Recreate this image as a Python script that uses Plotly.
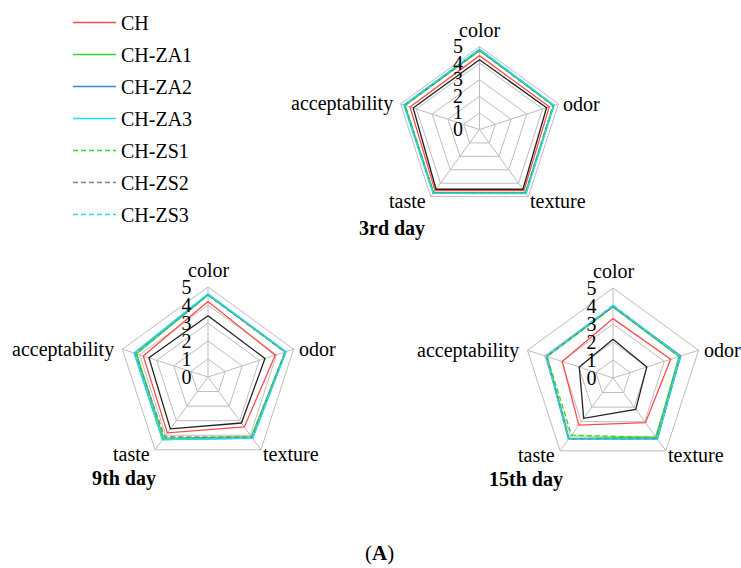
import math
import plotly.graph_objects as go

attributes = ["color", "odor", "texture", "taste", "acceptability"]
radial_ticks = [0, 1, 2, 3, 4, 5]
days = ["3rd day", "9th day", "15th day"]

# Sensory scores per sample: [3rd day, 9th day, 15th day], attributes in the order above
control = [
    [4.20, 4.25, 4.45, 4.45, 4.20],
    [3.40, 3.33, 3.16, 3.56, 3.45],
    [2.15, 1.97, 2.15, 2.77, 1.97],
]
ch = [
    [4.45, 4.42, 4.55, 4.55, 4.40],
    [4.20, 3.93, 3.43, 3.84, 3.78],
    [3.30, 3.37, 3.07, 3.23, 2.96],
]
ch_za1 = [
    [4.75, 4.68, 4.70, 4.70, 4.72],
    [4.55, 4.50, 4.10, 4.20, 4.17],
    [3.95, 3.85, 4.07, 4.15, 3.85],
]
ch_za2 = [
    [4.80, 4.70, 4.75, 4.72, 4.75],
    [4.60, 4.55, 4.20, 4.30, 4.30],
    [3.98, 3.95, 4.20, 4.20, 3.90],
]
ch_za3 = [
    [4.85, 4.72, 4.78, 4.75, 4.80],
    [4.62, 4.55, 4.22, 4.30, 4.32],
    [4.00, 3.92, 4.18, 4.21, 3.88],
]
ch_zs1 = [
    [4.75, 4.65, 4.70, 4.70, 4.70],
    [4.55, 4.50, 4.12, 4.22, 4.20],
    [3.95, 3.88, 4.10, 3.92, 3.85],
]
ch_zs2 = [
    [4.78, 4.70, 4.72, 4.72, 4.75],
    [4.55, 4.50, 4.15, 4.10, 4.25],
    [3.97, 3.90, 4.15, 4.18, 3.87],
]
ch_zs3 = [
    [4.82, 4.72, 4.75, 4.75, 4.78],
    [4.60, 4.55, 4.20, 4.30, 4.30],
    [4.05, 3.92, 4.20, 4.20, 3.90],
]

DASH = "5px,3px"
series = [
    ("CH", ch, "#ff4a4a", "solid", True),
    ("CH-ZA1", ch_za1, "#2fd82f", "solid", True),
    ("CH-ZA2", ch_za2, "#3a86d8", "solid", True),
    ("CH-ZA3", ch_za3, "#22dcf0", "solid", True),
    ("CH-ZS1", ch_zs1, "#2fd82f", DASH, True),
    ("CH-ZS2", ch_zs2, "#7f8190", DASH, True),
    ("CH-ZS3", ch_zs3, "#22dcf0", DASH, True),
    ("Control", control, "#222222", "solid", False),
]

SERIF = "Liberation Serif, Times New Roman, serif"
FS = 20
W, H = 741, 568

# Pixel geometry of each radar: centre x, centre y (from top), radius
geom = [(479.5, 129.5, 83), (208, 377, 90), (613, 378, 90)]
polar_names = ["polar", "polar2", "polar3"]

fig = go.Figure()
for d, pname in enumerate(polar_names):
    for name, vals, color, dash, in_legend in series:
        r = vals[d] + vals[d][:1]
        theta = attributes + attributes[:1]
        fig.add_trace(go.Scatterpolar(
            r=r, theta=theta, mode="lines", name=name,
            subplot=pname,
            line=dict(color=color, width=1.3, dash=dash),
            showlegend=(in_legend and d == 0),
            legendgroup=f"{name}-{d}",
        ))


def polar_layout(cx, cy, rad):
    return dict(
        domain=dict(x=[(cx - rad) / W, (cx + rad) / W],
                    y=[(H - cy - rad) / H, (H - cy + rad) / H]),
        bgcolor="white",
        gridshape="linear",
        radialaxis=dict(
            range=[0, 5], tickvals=radial_ticks, angle=90,
            side="counterclockwise", showline=False,
            ticks="outside", ticklen=9, tickcolor="rgba(0,0,0,0)",
            gridcolor="#bdbdbd", gridwidth=1,
            tickfont=dict(family=SERIF, size=FS, color="black"),
            tickangle=90,
        ),
        angularaxis=dict(
            rotation=90, direction="clockwise",
            categoryorder="array", categoryarray=attributes,
            showline=True, linecolor="#bdbdbd", linewidth=1,
            gridcolor="#bdbdbd", ticks="", showticklabels=False,
        ),
    )


layout_polars = {p: polar_layout(*g) for p, g in zip(polar_names, geom)}

fig.update_layout(
    width=W, height=H,
    margin=dict(l=0, r=0, t=0, b=0),
    paper_bgcolor="white",
    legend=dict(
        x=68 / W, y=1 - 3 / H, xanchor="left", yanchor="top",
        font=dict(family=SERIF, size=FS, color="black"),
        itemwidth=43, tracegroupgap=3,
        bgcolor="rgba(0,0,0,0)",
    ),
    showlegend=True,
    **layout_polars,
)

# Attribute labels around each pentagon
label_dirs = [90, 18, -54, -126, 162]
label_style = [
    dict(xanchor="center", yanchor="bottom", xshift=0, yshift=4),
    dict(xanchor="left", yanchor="middle", xshift=3, yshift=0),
    dict(xanchor="left", yanchor="middle", xshift=0, yshift=-4),
    dict(xanchor="right", yanchor="middle", xshift=-3, yshift=-4),
    dict(xanchor="right", yanchor="middle", xshift=-6, yshift=0),
]
for cx, cy, rad in geom:
    for lab, ang, st in zip(attributes, label_dirs, label_style):
        vx = cx + rad * math.cos(math.radians(ang))
        vy = cy - rad * math.sin(math.radians(ang))
        fig.add_annotation(text=lab, x=vx / W, y=1 - vy / H, xref="paper", yref="paper",
                           showarrow=False, font=dict(family=SERIF, size=FS, color="black"),
                           **st)

titles = [("<b>3rd day</b>", 392, 229), ("<b>9th day</b>", 124, 478), ("<b>15th day</b>", 526, 479)]
for text, x, y in titles:
    fig.add_annotation(text=text, x=x / W, y=1 - y / H, xref="paper", yref="paper",
                       xanchor="center", yanchor="middle",
                       showarrow=False, font=dict(family=SERIF, size=FS, color="black"))

fig.add_annotation(text="(<b>A</b>)", x=380 / W, y=1 - 553 / H, xref="paper", yref="paper",
                   xanchor="center", yanchor="middle",
                   showarrow=False, font=dict(family=SERIF, size=21, color="black"))

fig.write_html("out.html")
